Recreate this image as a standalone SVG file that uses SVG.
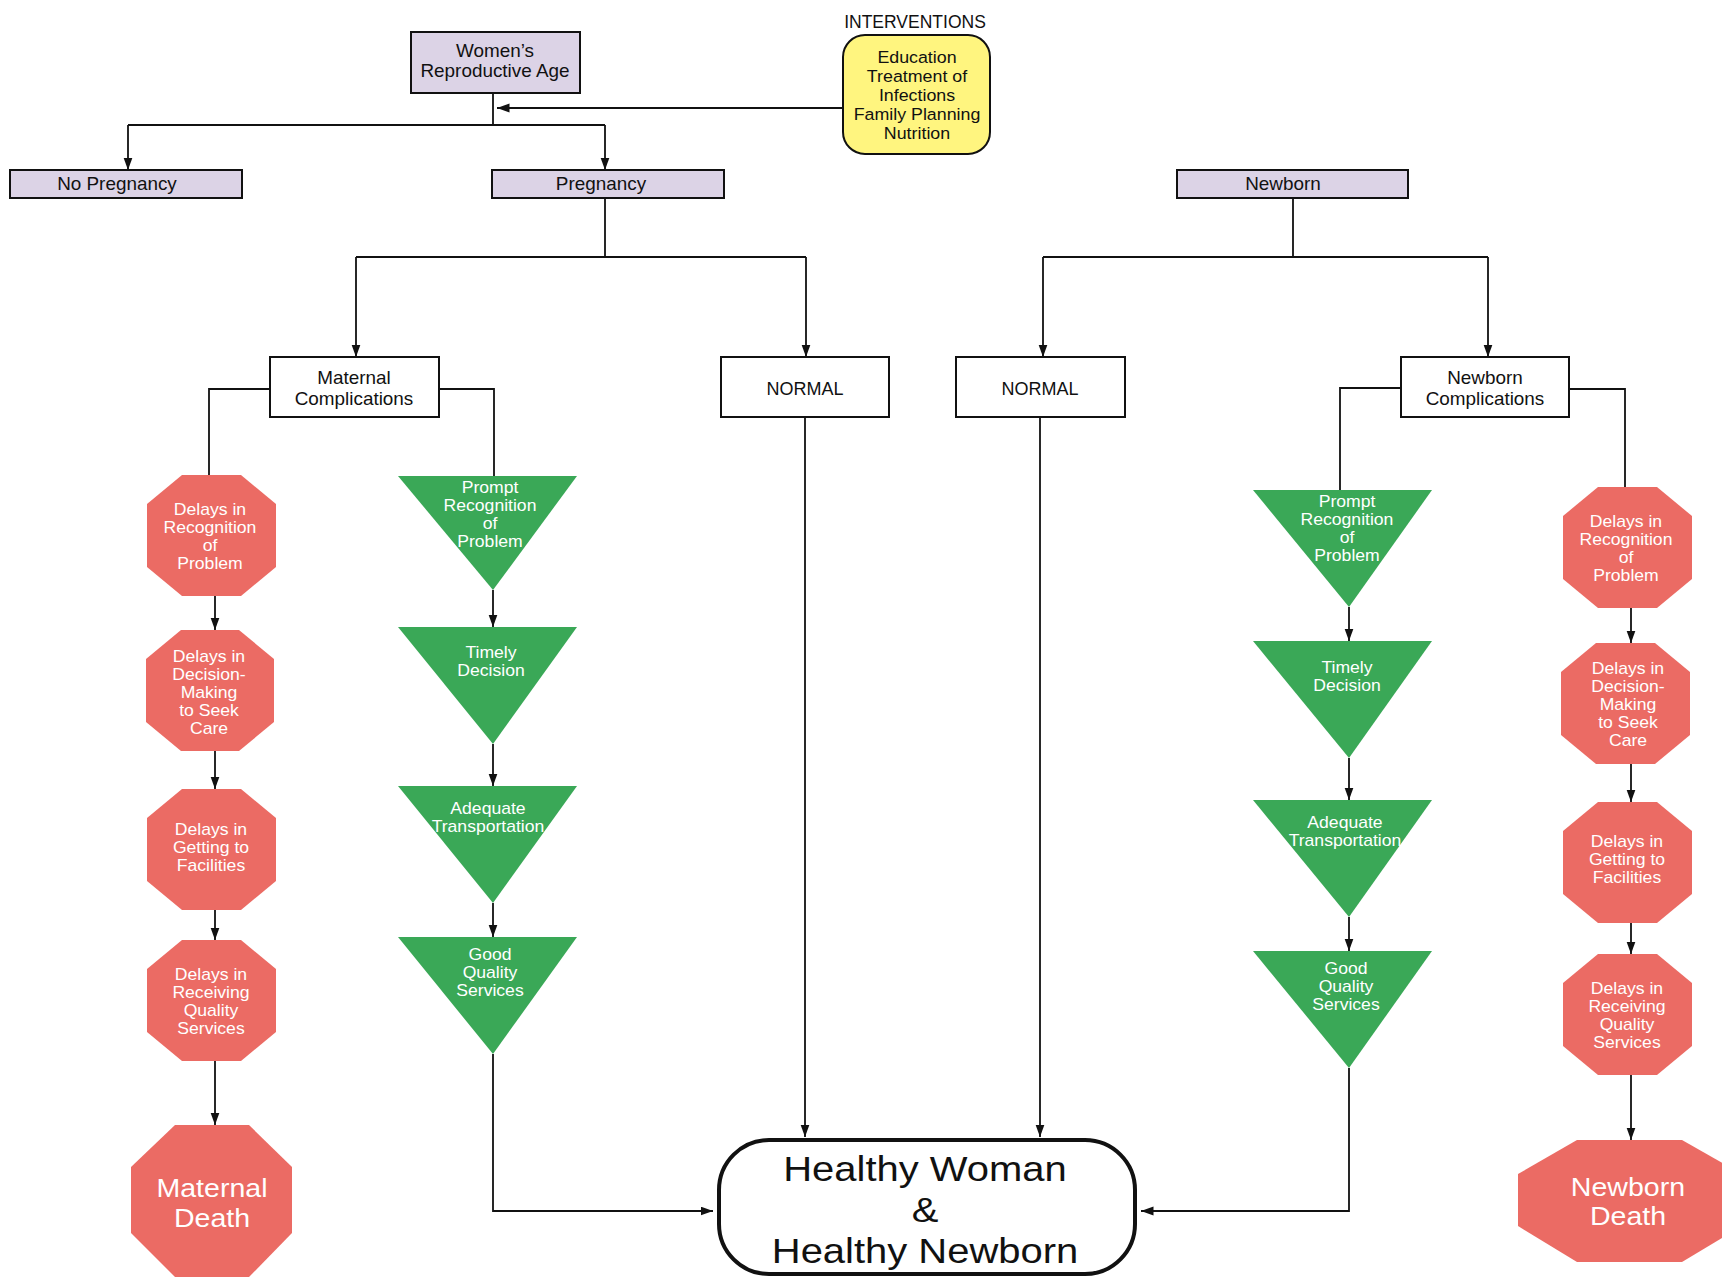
<svg xmlns="http://www.w3.org/2000/svg" width="1722" height="1278" viewBox="0 0 1722 1278">
  <style>
    text { font-family: "Liberation Sans", Arial, sans-serif; text-anchor: middle; }
    .box { fill: #ffffff; stroke: #111111; stroke-width: 2; }
    .lav { fill: #dcd3e6; stroke: #111111; stroke-width: 2; }
    .yel { fill: #fff57f; stroke: #111111; stroke-width: 2; }
    .red { fill: #eb6b64; }
    .grn { fill: #3aa857; }
    /* slightly widened lettering */
    .wide { transform-box: fill-box; transform-origin: center; }
    .lbl { font-size: 18px; fill: #111111; }
    .lbl.wide { transform: scaleX(1.05); }
    .cap { font-size: 17.5px; fill: #111111; }
    .yl { font-size: 16.5px; fill: #111111; transform: scaleX(1.08); }
    .wt { font-size: 16px; fill: #ffffff; transform: scaleX(1.1); }
    .big { font-size: 25.5px; fill: #ffffff; transform: scaleX(1.12); }
    .hw { font-size: 36px; fill: #111111; transform: scaleX(1.11); }
    .wire { fill: none; stroke: #111111; stroke-width: 1.8; }
    .arr { marker-end: url(#ah); }
  </style>
  <defs>
    <marker id="ah" markerUnits="userSpaceOnUse" markerWidth="13" markerHeight="10" refX="12.5" refY="4.5" orient="auto">
      <path d="M0,0 L12.5,4.5 L0,9 Z" fill="#111111"/>
    </marker>
  </defs>

  <!-- connectors -->
  <g id="connectors">
    <!-- interventions feed into the reproductive-age stem -->
    <path class="wire arr" d="M843,108 H497"/>
    <path class="wire" d="M493,93 V125 M128,125 H605"/>
    <path class="wire arr" d="M128,125 V170"/>
    <path class="wire arr" d="M605,125 V170"/>
    <!-- pregnancy split -->
    <path class="wire" d="M605,198 V257 M356,257 H806"/>
    <path class="wire arr" d="M356,257 V357"/>
    <path class="wire arr" d="M806,257 V357"/>
    <!-- newborn split -->
    <path class="wire" d="M1293,198 V257 M1043,257 H1488"/>
    <path class="wire arr" d="M1043,257 V357"/>
    <path class="wire arr" d="M1488,257 V357"/>
    <!-- maternal complications branches -->
    <path class="wire" d="M270,389 H209 V475"/>
    <path class="wire" d="M439,389 H494 V476"/>
    <!-- newborn complications branches -->
    <path class="wire" d="M1401,388 H1340 V490"/>
    <path class="wire" d="M1569,389 H1625 V487"/>
    <!-- maternal delays chain -->
    <path class="wire arr" d="M215,596 V630"/>
    <path class="wire arr" d="M215,751 V789"/>
    <path class="wire arr" d="M215,910 V940"/>
    <path class="wire arr" d="M215,1061 V1125"/>
    <!-- maternal prompt-care chain -->
    <path class="wire arr" d="M493,590 V627"/>
    <path class="wire arr" d="M493,744 V786"/>
    <path class="wire arr" d="M493,903 V937"/>
    <path class="wire arr" d="M493,1054 V1211 H713"/>
    <!-- normal paths -->
    <path class="wire arr" d="M805,417 V1137"/>
    <path class="wire arr" d="M1040,417 V1137"/>
    <!-- newborn prompt-care chain -->
    <path class="wire arr" d="M1349,607 V641"/>
    <path class="wire arr" d="M1349,758 V800"/>
    <path class="wire arr" d="M1349,917 V951"/>
    <path class="wire arr" d="M1349,1068 V1211 H1141"/>
    <!-- newborn delays chain -->
    <path class="wire arr" d="M1631,608 V643"/>
    <path class="wire arr" d="M1631,764 V802"/>
    <path class="wire arr" d="M1631,923 V954"/>
    <path class="wire arr" d="M1631,1075 V1140"/>
  </g>

  <!-- top level -->
  <g id="interventions-title">
    <text class="cap" x="915" y="28">INTERVENTIONS</text>
  </g>
  <g id="interventions">
    <rect class="yel" x="843" y="35" width="147" height="119" rx="22"/>
    <text class="yl wide"><tspan x="917" y="63">Education</tspan><tspan x="917" y="82">Treatment of</tspan><tspan x="917" y="101">Infections</tspan><tspan x="917" y="120">Family Planning</tspan><tspan x="917" y="139">Nutrition</tspan></text>
  </g>
  <g id="womens-reproductive-age">
    <rect class="lav" x="411" y="32" width="169" height="61"/>
    <text class="lbl wide"><tspan x="495" y="57">Women’s</tspan><tspan x="495" y="77.5">Reproductive Age</tspan></text>
  </g>
  <g id="no-pregnancy">
    <rect class="lav" x="10" y="170" width="232" height="28"/>
    <text class="lbl wide" x="117" y="190.5">No Pregnancy</text>
  </g>
  <g id="pregnancy">
    <rect class="lav" x="492" y="170" width="232" height="28"/>
    <text class="lbl wide" x="601" y="190.5">Pregnancy</text>
  </g>
  <g id="newborn">
    <rect class="lav" x="1177" y="170" width="231" height="28"/>
    <text class="lbl wide" x="1283" y="190.5">Newborn</text>
  </g>

  <!-- second level -->
  <g id="maternal-complications">
    <rect class="box" x="270" y="357" width="169" height="60"/>
    <text class="lbl wide"><tspan x="354" y="384.5">Maternal</tspan><tspan x="354" y="405.5">Complications</tspan></text>
  </g>
  <g id="normal-pregnancy">
    <rect class="box" x="721" y="357" width="168" height="60"/>
    <text class="lbl" x="805" y="394.5">NORMAL</text>
  </g>
  <g id="normal-newborn">
    <rect class="box" x="956" y="357" width="169" height="60"/>
    <text class="lbl" x="1040" y="394.5">NORMAL</text>
  </g>
  <g id="newborn-complications">
    <rect class="box" x="1401" y="357" width="168" height="60"/>
    <text class="lbl wide"><tspan x="1485" y="384.5">Newborn</tspan><tspan x="1485" y="405.5">Complications</tspan></text>
  </g>

  <!-- maternal delays -->
  <g id="m-delay-recognition">
    <polygon class="red" points="182,475 241,475 276,504 276,567 241,596 182,596 147,567 147,504"/>
    <text class="wt wide"><tspan x="210" y="515">Delays in</tspan><tspan x="210" y="533">Recognition</tspan><tspan x="210" y="551">of</tspan><tspan x="210" y="569">Problem</tspan></text>
  </g>
  <g id="m-delay-decision">
    <polygon class="red" points="181,630 239,630 274,659 274,722 239,751 181,751 146,722 146,659"/>
    <text class="wt wide"><tspan x="209" y="662">Delays in</tspan><tspan x="209" y="680">Decision-</tspan><tspan x="209" y="698">Making</tspan><tspan x="209" y="716">to Seek</tspan><tspan x="209" y="734">Care</tspan></text>
  </g>
  <g id="m-delay-getting">
    <polygon class="red" points="182,789 241,789 276,818 276,881 241,910 182,910 147,881 147,818"/>
    <text class="wt wide"><tspan x="211" y="835">Delays in</tspan><tspan x="211" y="853">Getting to</tspan><tspan x="211" y="871">Facilities</tspan></text>
  </g>
  <g id="m-delay-receiving">
    <polygon class="red" points="182,940 241,940 276,969 276,1032 241,1061 182,1061 147,1032 147,969"/>
    <text class="wt wide"><tspan x="211" y="980">Delays in</tspan><tspan x="211" y="998">Receiving</tspan><tspan x="211" y="1016">Quality</tspan><tspan x="211" y="1034">Services</tspan></text>
  </g>
  <g id="maternal-death">
    <polygon class="red" points="175,1125 249,1125 292,1167 292,1233 249,1277 175,1277 131,1233 131,1167"/>
    <text class="big wide"><tspan x="212" y="1197">Maternal</tspan><tspan x="212" y="1227">Death</tspan></text>
  </g>

  <!-- maternal prompt care -->
  <g id="m-prompt-recognition">
    <polygon class="grn" points="398,476 577,476 493,590"/>
    <text class="wt wide"><tspan x="490" y="493">Prompt</tspan><tspan x="490" y="511">Recognition</tspan><tspan x="490" y="529">of</tspan><tspan x="490" y="547">Problem</tspan></text>
  </g>
  <g id="m-timely-decision">
    <polygon class="grn" points="398,627 577,627 493,744"/>
    <text class="wt wide"><tspan x="491" y="658">Timely</tspan><tspan x="491" y="676">Decision</tspan></text>
  </g>
  <g id="m-adequate-transport">
    <polygon class="grn" points="398,786 577,786 493,903"/>
    <text class="wt wide"><tspan x="488" y="814">Adequate</tspan><tspan x="488" y="832">Transportation</tspan></text>
  </g>
  <g id="m-good-quality">
    <polygon class="grn" points="398,937 577,937 493,1054"/>
    <text class="wt wide"><tspan x="490" y="960">Good</tspan><tspan x="490" y="978">Quality</tspan><tspan x="490" y="996">Services</tspan></text>
  </g>

  <!-- newborn prompt care -->
  <g id="n-prompt-recognition">
    <polygon class="grn" points="1253,490 1432,490 1349,607"/>
    <text class="wt wide"><tspan x="1347" y="507">Prompt</tspan><tspan x="1347" y="525">Recognition</tspan><tspan x="1347" y="543">of</tspan><tspan x="1347" y="561">Problem</tspan></text>
  </g>
  <g id="n-timely-decision">
    <polygon class="grn" points="1253,641 1432,641 1349,758"/>
    <text class="wt wide"><tspan x="1347" y="673">Timely</tspan><tspan x="1347" y="691">Decision</tspan></text>
  </g>
  <g id="n-adequate-transport">
    <polygon class="grn" points="1253,800 1432,800 1349,917"/>
    <text class="wt wide"><tspan x="1345" y="828">Adequate</tspan><tspan x="1345" y="846">Transportation</tspan></text>
  </g>
  <g id="n-good-quality">
    <polygon class="grn" points="1253,951 1432,951 1349,1068"/>
    <text class="wt wide"><tspan x="1346" y="974">Good</tspan><tspan x="1346" y="992">Quality</tspan><tspan x="1346" y="1010">Services</tspan></text>
  </g>

  <!-- newborn delays -->
  <g id="n-delay-recognition">
    <polygon class="red" points="1598,487 1657,487 1692,516 1692,579 1657,608 1598,608 1563,579 1563,516"/>
    <text class="wt wide"><tspan x="1626" y="527">Delays in</tspan><tspan x="1626" y="545">Recognition</tspan><tspan x="1626" y="563">of</tspan><tspan x="1626" y="581">Problem</tspan></text>
  </g>
  <g id="n-delay-decision">
    <polygon class="red" points="1596,643 1655,643 1690,672 1690,735 1655,764 1596,764 1561,735 1561,672"/>
    <text class="wt wide"><tspan x="1628" y="674">Delays in</tspan><tspan x="1628" y="692">Decision-</tspan><tspan x="1628" y="710">Making</tspan><tspan x="1628" y="728">to Seek</tspan><tspan x="1628" y="746">Care</tspan></text>
  </g>
  <g id="n-delay-getting">
    <polygon class="red" points="1598,802 1657,802 1692,831 1692,894 1657,923 1598,923 1563,894 1563,831"/>
    <text class="wt wide"><tspan x="1627" y="847">Delays in</tspan><tspan x="1627" y="865">Getting to</tspan><tspan x="1627" y="883">Facilities</tspan></text>
  </g>
  <g id="n-delay-receiving">
    <polygon class="red" points="1598,954 1657,954 1692,983 1692,1046 1657,1075 1598,1075 1563,1046 1563,983"/>
    <text class="wt wide"><tspan x="1627" y="994">Delays in</tspan><tspan x="1627" y="1012">Receiving</tspan><tspan x="1627" y="1030">Quality</tspan><tspan x="1627" y="1048">Services</tspan></text>
  </g>
  <g id="newborn-death">
    <polygon class="red" points="1577,1140 1682,1140 1742,1174 1742,1226 1682,1262 1577,1262 1518,1226 1518,1174"/>
    <text class="big wide"><tspan x="1628" y="1196">Newborn</tspan><tspan x="1628" y="1225">Death</tspan></text>
  </g>

  <!-- outcome -->
  <g id="healthy-outcome">
    <rect x="719" y="1140" width="416" height="134" rx="50" fill="#ffffff" stroke="#111111" stroke-width="4"/>
    <text class="hw wide"><tspan x="925" y="1181">Healthy Woman</tspan><tspan x="925" y="1222">&amp;</tspan><tspan x="925" y="1263">Healthy Newborn</tspan></text>
  </g>
</svg>
